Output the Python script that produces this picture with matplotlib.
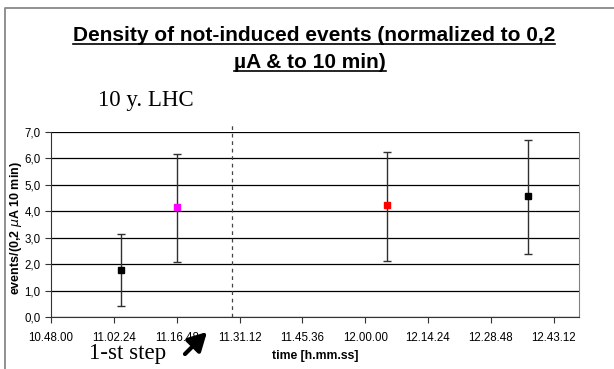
import numpy as np
import matplotlib
matplotlib.use('Agg')
from matplotlib import pyplot as plt
from matplotlib.lines import Line2D

# measurement times (h.mm.ss), values and error bar ends
times = ['11.04.00', '11.16.48', '12.05.00', '12.37.24']
values = [1.78, 4.18, 4.24, 4.58]
err_low = [0.42, 2.08, 2.13, 2.40]
err_high = [3.14, 6.17, 6.25, 6.70]
colors = ['black', '#ff00ff', 'red', 'black']
msizes = [5, 3.8, 3.8, 4.3]
tick_labels = ['10.48.00', '11.02.24', '11.16.48', '11.31.12', '11.45.36',
               '12.00.00', '12.14.24', '12.28.48', '12.43.12']
step_time = '11.29.24'


def to_min(s):
    h, m, sec = [int(v) for v in s.split('.')]
    return h * 60 + m + sec / 60.


t0 = to_min(tick_labels[0])
x = np.array([to_min(t) - t0 for t in times])
xt = np.array([to_min(t) - t0 for t in tick_labels])
y = np.array(values)

plt.rcParams['font.family'] = 'Liberation Sans'

W, H = 614., 369.
fig = plt.figure(figsize=(6.14, 3.69), dpi=100)
ax = fig.add_axes([51 / W, 1 - 317 / H, 528 / W, 185 / H])

# outer chart frame (only top and left edges are in view)
fig.add_artist(Line2D([5 / W, 5 / W, 1], [0, 1 - 8 / H, 1 - 8 / H],
                      color='#888888', lw=1.3, transform=fig.transFigure))

for i in range(len(x)):
    ax.errorbar(x[i], y[i], yerr=[[y[i] - err_low[i]], [err_high[i] - y[i]]],
                fmt='s', color=colors[i], ecolor='#303030', elinewidth=1,
                capsize=2.6, capthick=1, ms=msizes[i], mec=colors[i], zorder=3)

ax.set_xlim(0, 121)
ax.set_ylim(0, 7)
ax.set_xticks(xt)
ax.set_xticklabels(tick_labels)
ax.set_yticks(np.arange(0, 8))
ax.set_yticklabels(['%d,0' % v for v in range(8)])
ax.tick_params(labelsize=8.3, length=4, width=0.8, colors='#333333',
               labelcolor='black')
ax.tick_params(axis='x', pad=7)
ax.grid(axis='y', color='black', lw=0.9)
ax.set_axisbelow(True)
ax.spines['right'].set_color('#808080')
ax.spines['top'].set_visible(False)
for s in ['left', 'bottom']:
    ax.spines[s].set_color('#333333')

ax.set_xlabel('time [h.mm.ss]', fontsize=8.8, fontweight='bold', labelpad=4)
ax.set_ylabel('events/(0,2 $\\mu$A 10 min)', fontsize=9,
              fontweight='bold', labelpad=1)
ax.yaxis.set_label_coords(-0.052, 0.48)

# dashed line marking the step
xs = to_min(step_time) - t0
ax.plot([xs, xs], [0, 7.3], ls=(0, (3, 3)), color='#444444', lw=0.9,
        clip_on=False)

t1 = fig.text(314 / W, 1 - 41 / H,
              'Density of not-induced events (normalized to 0,2',
              ha='center', va='baseline', fontsize=15, fontweight='bold')
t2 = fig.text(310 / W, 1 - 68 / H, '\u00b5A & to 10 min)', ha='center',
              va='baseline', fontsize=15, fontweight='bold')
fig.text(98 / W, 1 - 106 / H, '10 y. LHC', family='Liberation Serif',
         fontsize=16.5, va='baseline')
fig.text(89 / W, 1 - 359 / H, '1-st step', family='Liberation Serif',
         fontsize=16.5, va='baseline')

ax.annotate('', xy=(209 / W, 1 - 330 / H),
            xytext=(183 / W, 1 - 356 / H),
            xycoords='figure fraction', textcoords='figure fraction',
            arrowprops=dict(arrowstyle='-|>,head_length=1.1,head_width=0.6',
                            color='black', lw=3))

# underline the title lines
fig.canvas.draw()
r = fig.canvas.get_renderer()
for t in [t1, t2]:
    bb = t.get_window_extent(r).transformed(fig.transFigure.inverted())
    yb = t.get_position()[1] - 3 / H
    fig.add_artist(Line2D([bb.x0, bb.x1], [yb, yb], color='black', lw=1.2,
                          transform=fig.transFigure))

fig.savefig('out.png', dpi=100)
